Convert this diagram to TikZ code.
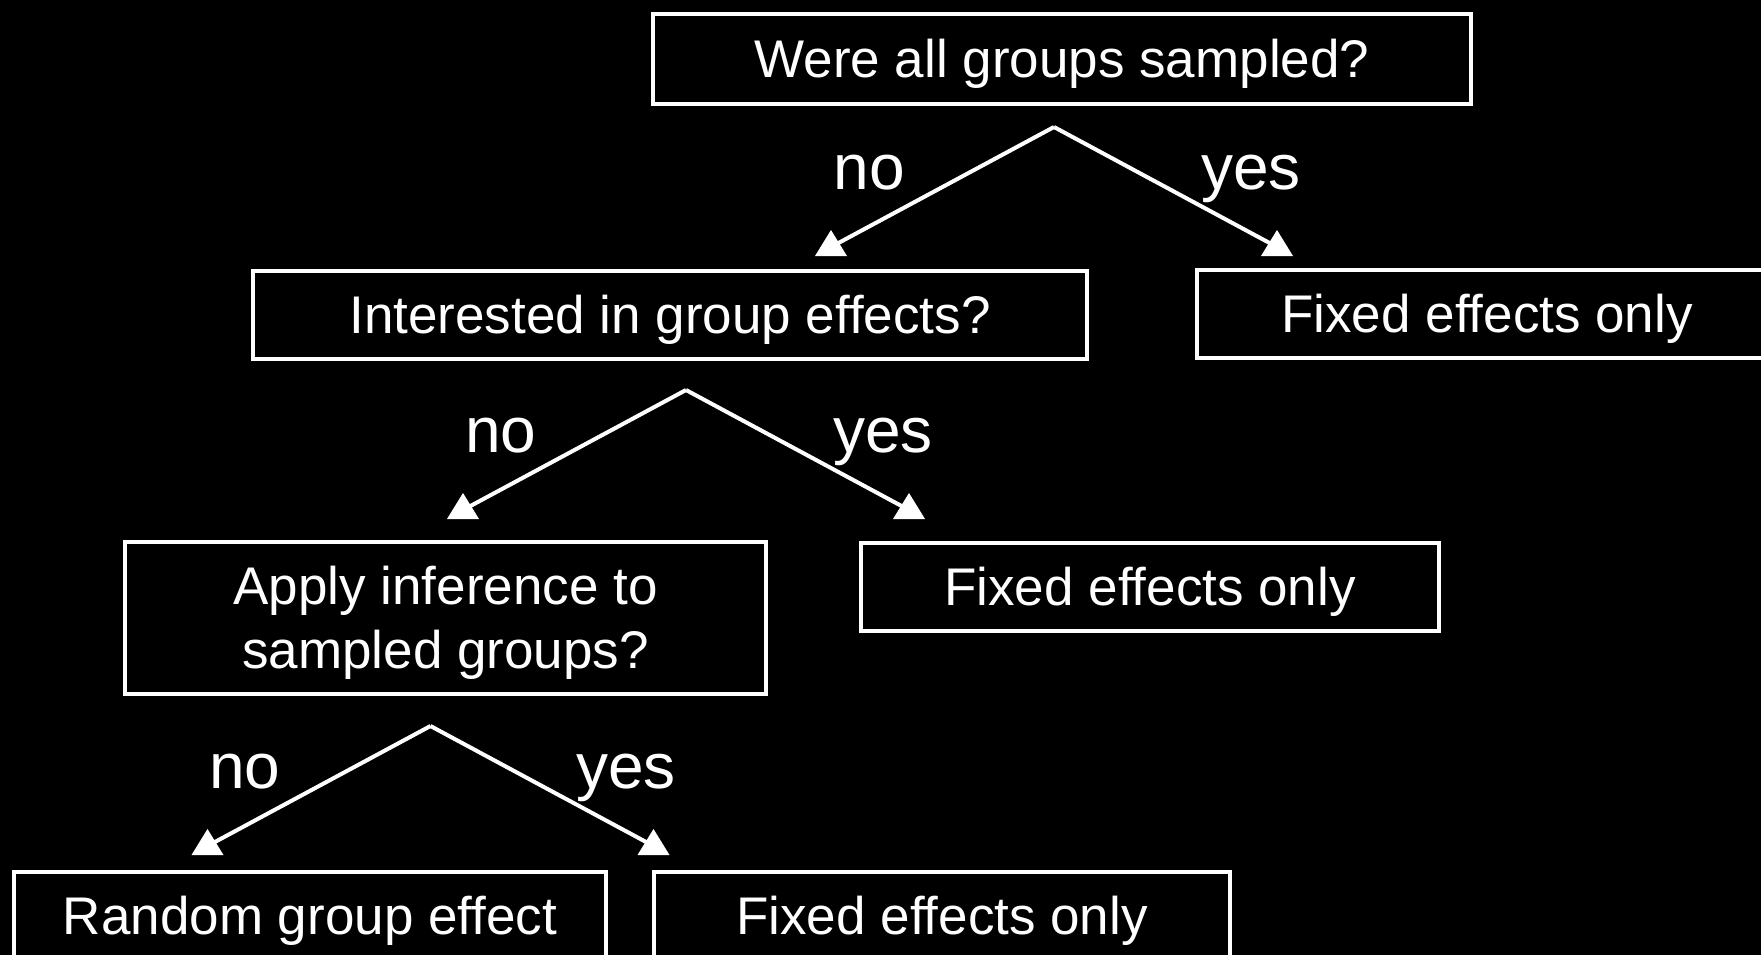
\documentclass[tikz,border=0pt]{standalone}
\usepackage{fontspec}
\setmainfont{Liberation Sans}
\begin{document}
\begin{tikzpicture}[x=1pt,y=-1pt,
  qbox/.style={draw=white, line width=3.5pt, fill=black, text=white, inner sep=0pt,
    font=\fontsize{53}{63.5}\selectfont, text height=37pt, text depth=0pt},
  lbl/.style={text=white, inner sep=0pt, anchor=base, font=\fontsize{64}{76}\selectfont},
  conn/.style={draw=white, line width=4pt},
  tipfill/.style={fill=white}]
\useasboundingbox (0,0) rectangle (1761,955);
\fill[black] (0,0) rectangle (1761,955);
\clip (0,0) rectangle (1761,955);
% boxes
\node[qbox, minimum width=818pt, minimum height=90pt] (q1) at (1062,59) {Were all groups sampled?};
\node[qbox, minimum width=834pt, minimum height=88pt] (q2) at (670,315) {Interested in group effects?};
\node[qbox, minimum width=580pt, minimum height=88pt] (f1) at (1487,314) {Fixed effects only};
\node[qbox, minimum width=641pt, minimum height=152pt, text height=100.5pt] (q3) at (445.5,618)
  {\begin{tabular}[b]{@{}c@{}}Apply inference to\\sampled groups?\end{tabular}};
\node[qbox, minimum width=578pt, minimum height=88pt] (f2) at (1150,587) {Fixed effects only};
\node[qbox, minimum width=592pt, minimum height=88pt] (r1) at (310,916) {Random group effect};
\node[qbox, minimum width=576pt, minimum height=88pt] (f3) at (942,916) {Fixed effects only};
% branch points and arrow tips
\coordinate (a1) at (1054,127);
\coordinate (t1l) at (831,247);
\coordinate (t1r) at (1277,247);
\coordinate (a2) at (686,390);
\coordinate (t2l) at (463,510);
\coordinate (t2r) at (909,510);
\coordinate (a3) at (430.5,726);
\coordinate (t3l) at (207.5,846);
\coordinate (t3r) at (653.5,846);
% connectors
\draw[conn] (a1) -- (t1l);
\draw[conn] (a1) -- (t1r);
\draw[conn] (a2) -- (t2l);
\draw[conn] (a2) -- (t2r);
\draw[conn] (a3) -- (t3l);
\draw[conn] (a3) -- (t3r);
% arrow heads
\foreach \t in {t1l,t1r,t2l,t2r,t3l,t3r}
  \fill[tipfill] (\t) ++(-16,9) -- ++(32,0) -- ++(-16,-26) -- cycle;
% labels
\node[lbl] (n1) at (869,189) {no};
\node[lbl] (y1) at (1251,189) {yes};
\node[lbl] (n2) at (501,452) {no};
\node[lbl] (y2) at (883,452) {yes};
\node[lbl] (n3) at (245,788) {no};
\node[lbl] (y3) at (626,788) {yes};
\end{tikzpicture}
\end{document}
